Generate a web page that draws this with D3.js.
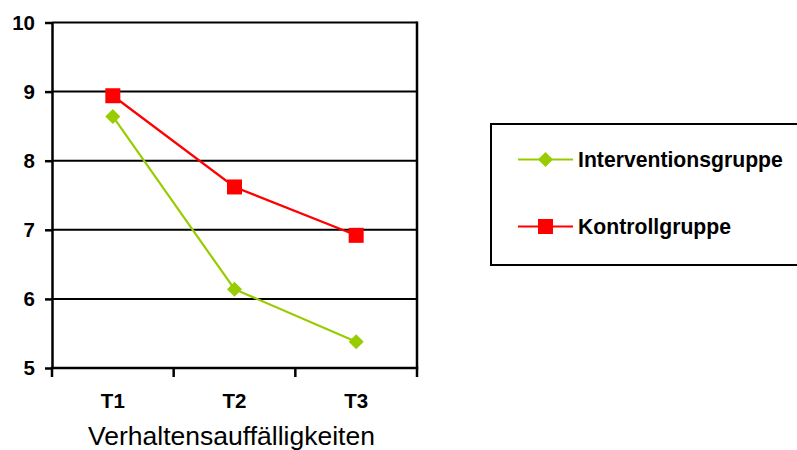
<!DOCTYPE html>
<html>
<head>
<meta charset="utf-8">
<script src="https://cdn.jsdelivr.net/npm/d3@7"></script>
<style>
  html, body { margin: 0; padding: 0; background: #fff; }
  svg { display: block; font-family: "Liberation Sans", Arial, sans-serif; }
</style>
</head>
<body>
<svg id="chart" width="797" height="450"></svg>
<script>
// Measurement points and group means
const categories = ["T1", "T2", "T3"];
const interventionValues = [8.64, 6.14, 5.38];
const kontrollValues = [8.94, 7.62, 6.92];
const yTicks = [5, 6, 7, 8, 9, 10];
const seriesNames = ["Interventionsgruppe", "Kontrollgruppe"];
const xTitle = "Verhaltensauffälligkeiten";

const series = [
  { name: seriesNames[0], values: interventionValues, color: "#99cc00", shape: "diamond" },
  { name: seriesNames[1], values: kontrollValues, color: "#ff0000", shape: "square" }
];

const svg = d3.select("#chart");
const plot = { left: 52, right: 417, top: 22.5, bottom: 368 };

const x = d3.scaleBand().domain(categories).range([plot.left, plot.right]);
const y = d3.scaleLinear().domain([5, 10]).range([plot.bottom, plot.top]);

// Horizontal gridlines
svg.append("g")
  .selectAll("line")
  .data(yTicks)
  .join("line")
  .attr("x1", plot.left).attr("x2", plot.right)
  .attr("y1", d => y(d)).attr("y2", d => y(d))
  .attr("stroke", "#000").attr("stroke-width", 2);

// Right frame edge
svg.append("line")
  .attr("x1", plot.right).attr("x2", plot.right)
  .attr("y1", y(10) - 1).attr("y2", plot.bottom)
  .attr("stroke", "#000").attr("stroke-width", 2.5);

// Y axis
const yAxis = svg.append("g")
  .attr("transform", `translate(${plot.left},0)`)
  .call(d3.axisLeft(y).tickValues(yTicks).tickFormat(d3.format("d")).tickSize(7).tickSizeOuter(0).tickPadding(10));
yAxis.select(".domain").attr("stroke", "#000").attr("stroke-width", 2.5);
yAxis.selectAll(".tick line").attr("stroke", "#000").attr("stroke-width", 2.5);
yAxis.selectAll(".tick text")
  .attr("font-size", 20.5).attr("font-weight", "bold").attr("fill", "#000")
  .attr("font-family", "Liberation Sans, Arial, sans-serif");

// X axis with boundary ticks between categories
const xAxisG = svg.append("g").attr("transform", `translate(0,${plot.bottom})`);
xAxisG.append("line")
  .attr("x1", plot.left - 1.25).attr("x2", plot.right + 1.25)
  .attr("stroke", "#000").attr("stroke-width", 2.5);
const boundaries = categories.map(c => x(c)).concat([x(categories[categories.length - 1]) + x.bandwidth()]);
xAxisG.selectAll("line.bt")
  .data(boundaries)
  .join("line").attr("class", "bt")
  .attr("x1", d => d).attr("x2", d => d)
  .attr("y1", 0).attr("y2", 9)
  .attr("stroke", "#000").attr("stroke-width", 2.5);
xAxisG.selectAll("text")
  .data(categories)
  .join("text")
  .attr("x", d => x(d) + x.bandwidth() / 2)
  .attr("y", 40)
  .attr("text-anchor", "middle")
  .attr("font-size", 20.5).attr("font-weight", "bold")
  .text(d => d);

// Axis title
svg.append("text")
  .attr("x", (plot.left + plot.right) / 2 - 3)
  .attr("y", 444.5)
  .attr("text-anchor", "middle")
  .attr("font-size", 26.5)
  .attr("fill", "#000")
  .text(xTitle);

// Marker drawing helper
function drawMarker(sel, shape, color) {
  if (shape === "square") {
    sel.append("rect")
      .attr("x", -7.5).attr("y", -7.5).attr("width", 15).attr("height", 15)
      .attr("fill", color);
  } else {
    sel.append("path")
      .attr("d", "M0,-7.5L7.5,0L0,7.5L-7.5,0Z")
      .attr("fill", color);
  }
}

const line = d3.line()
  .x((d, i) => x(categories[i]) + x.bandwidth() / 2)
  .y(d => y(d));

// Series lines and markers
series.forEach(s => {
  svg.append("path")
    .datum(s.values)
    .attr("d", line)
    .attr("fill", "none")
    .attr("stroke", s.color)
    .attr("stroke-width", 2.2);
  svg.append("g")
    .selectAll("g")
    .data(s.values)
    .join("g")
    .attr("transform", (d, i) => `translate(${x(categories[i]) + x.bandwidth() / 2},${y(d)})`)
    .each(function () { drawMarker(d3.select(this), s.shape, s.color); });
});

// Legend
const legend = svg.append("g");
legend.append("rect")
  .attr("x", 491).attr("y", 124)
  .attr("width", 320).attr("height", 141)
  .attr("fill", "#fff").attr("stroke", "#000").attr("stroke-width", 2);
const rowY = [159.5, 226.5];
series.forEach((s, i) => {
  const g = legend.append("g").attr("transform", `translate(0,${rowY[i]})`);
  g.append("line")
    .attr("x1", 518).attr("x2", 573)
    .attr("stroke", s.color).attr("stroke-width", 2.2);
  const m = g.append("g").attr("transform", "translate(545.5,0)");
  drawMarker(m, s.shape, s.color);
  g.append("text")
    .attr("x", 578).attr("y", 7.5)
    .attr("font-size", 21.2).attr("font-weight", "bold")
    .text(s.name);
});
</script>
</body>
</html>
